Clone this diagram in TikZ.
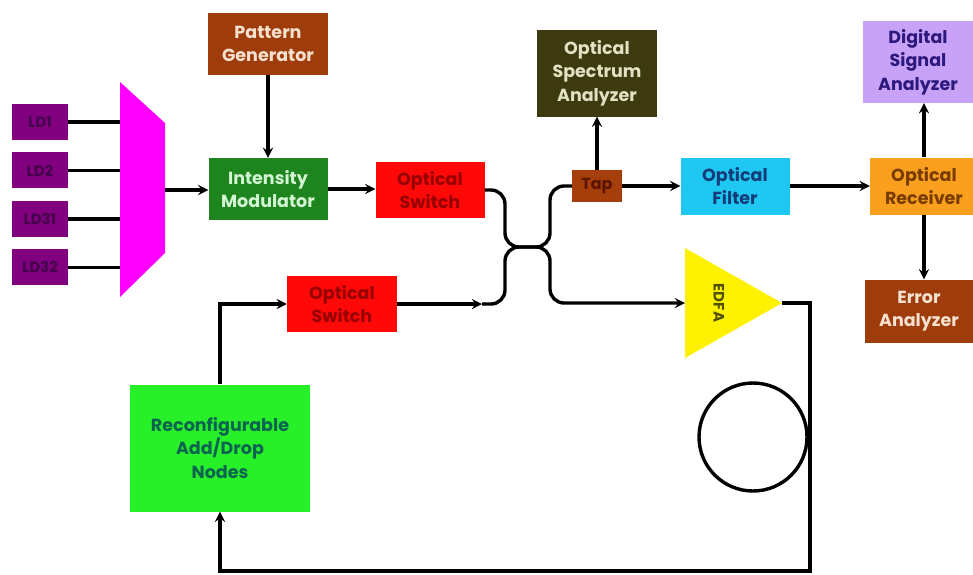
\documentclass[tikz,border=0pt]{standalone}
\usepackage{fontspec}
\setmainfont{Poppins}
\usepackage{tikz}
\usetikzlibrary{positioning, arrows}
\definecolor{ldfill}{RGB}{128,0,128}
\definecolor{ldtext}{RGB}{70,0,75}
\definecolor{muxfill}{RGB}{255,0,255}
\definecolor{brownfill}{RGB}{158,60,12}
\definecolor{lighttext}{RGB}{245,225,205}
\definecolor{imfill}{RGB}{30,132,30}
\definecolor{imtext}{RGB}{210,245,210}
\definecolor{osfill}{RGB}{255,8,8}
\definecolor{ostext}{RGB}{150,0,0}
\definecolor{tapfill}{RGB}{165,62,10}
\definecolor{taptext}{RGB}{90,20,0}
\definecolor{osafill}{RGB}{60,58,14}
\definecolor{osatext}{RGB}{225,225,195}
\definecolor{filterfill}{RGB}{30,200,242}
\definecolor{filtertext}{RGB}{20,60,120}
\definecolor{rxfill}{RGB}{250,160,30}
\definecolor{rxtext}{RGB}{120,60,0}
\definecolor{dsafill}{RGB}{200,162,246}
\definecolor{dsatext}{RGB}{45,25,125}
\definecolor{radnfill}{RGB}{40,240,40}
\definecolor{radntext}{RGB}{10,100,80}
\definecolor{edfatext}{RGB}{80,80,0}
\tikzset{
x=1pt, y=-1pt, % one unit per pixel of the sketch, y going down
>=stealth, % small filled arrow heads
wire/.style={line width=3.4pt, black}, % the fibre lines
box/.style={rectangle, inner sep=0pt, align=center, font=\bfseries\fontsize{17.5}{23.5}\selectfont}, % every instrument
ldbox/.style={box, fill=ldfill, text=ldtext, minimum width=56pt, minimum height=36pt, font=\bfseries\fontsize{15}{17}\selectfont}, % the lasers
}
\begin{document}
\begin{tikzpicture}
\useasboundingbox (0,0) rectangle (973,574);

            % lasers and multiplexer
            \node[ldbox] (ld1) at (40,122) {LD1};
            \node[ldbox, below=12pt of ld1] (ld2) {LD2};
            \node[ldbox, below=12pt of ld2] (ld31) {LD31};
            \node[ldbox, below=12pt of ld31] (ld32) {LD32};
            \fill[muxfill] (120,82) -- (165,123) -- (165,253) -- (120,297) -- cycle;
            \coordinate (muxin) at (120,0);
            \coordinate (muxout) at (165,190);

            % transmitter
            \node[box, fill=brownfill, text=lighttext, minimum width=120pt, minimum height=62pt] (pg) at (268,44) {Pattern\\Generator};
            \node[box, fill=imfill, text=imtext, minimum width=119pt, minimum height=62pt] (im) at (268,189) {Intensity\\Modulator};
            \node[box, fill=osfill, text=ostext, minimum width=109pt, minimum height=56pt] (os1) at (430,190) {Optical\\Switch};
            \node[box, fill=osfill, text=ostext, minimum width=110pt, minimum height=56pt] (os2) at (342,304) {Optical\\Switch};
            \node[box, fill=radnfill, text=radntext, minimum width=180pt, minimum height=127pt] (radn) at (220,448) {Reconfigurable\\Add/Drop\\Nodes};

            % monitoring and receiver
            \node[box, fill=tapfill, text=taptext, minimum width=50pt, minimum height=32pt, font=\bfseries\fontsize{16}{18}\selectfont] (tap) at (597,186) {Tap};
            \node[box, fill=osafill, text=osatext, minimum width=120pt, minimum height=87pt] (osa) at (597,73) {Optical\\Spectrum\\Analyzer};
            \node[box, fill=filterfill, text=filtertext, minimum width=109pt, minimum height=57pt] (filter) at (735,186) {Optical\\Filter};
            \node[box, fill=rxfill, text=rxtext, minimum width=108pt, minimum height=57pt] (rx) at (924,186) {Optical\\Receiver};
            \node[box, fill=dsafill, text=dsatext, minimum width=110pt, minimum height=82pt] (dsa) at (918,62) {Digital\\Signal\\Analyzer};
            \node[box, fill=brownfill, text=lighttext, minimum width=108pt, minimum height=63pt] (ea) at (919,311) {Error\\Analyzer};

            % amplifier and fibre spool
            \fill[yellow] (685,248) -- (782,303) -- (685,358) -- cycle;
            \node[rotate=-90, text=edfatext, font=\bfseries\fontsize{15}{17}\selectfont] (edfa) at (719,303) {EDFA};
            \coordinate (edfain) at (685,303);
            \coordinate (edfaout) at (782,303);
            \node[draw, circle, line width=3.4pt, minimum size=108pt] (spool) at (753,437) {};

            % coupler
            \coordinate (xl) at (505,247);
            \coordinate (xm) at (527,247);
            \coordinate (xr) at (550,247);
            \coordinate (cin) at (482,0);
            \coordinate (loopbr) at (810,571);

            \foreach \n in {ld1,ld2,ld31,ld32}
                \draw[wire] (\n.east) -- (\n.east -| muxin);
            \draw[wire, ->] (muxout) -- (muxout -| im.west);
            \draw[wire, ->] (pg) -- (im);
            \draw[wire, ->] (im.east) -- (im.east -| os1.west);
            \draw[wire, rounded corners=14pt] (os1.east) -| (xl) -- (xm);
            \draw[wire, ->] (os2.east) -- (os2.east -| cin);
            \draw[wire, rounded corners=14pt] (os2.east -| cin) -| (xl) -- (xm);
            \draw[wire, rounded corners=14pt] (xm) -- (xr) |- (tap.west);
            \draw[wire, ->, rounded corners=14pt] (xm) -- (xr) |- (edfain);
            \draw[wire, ->] (tap) -- (osa);
            \draw[wire, ->] (tap) -- (filter);
            \draw[wire, ->] (filter) -- (rx);
            \draw[wire, ->] (rx.north) -- (rx.north |- dsa.south);
            \draw[wire, ->] (rx.south) -- (rx.south |- ea.north);
            \draw[wire, ->] (edfaout) -| (loopbr) -| (radn.south);
            \draw[wire, ->] (radn.north) |- (os2.west);
\end{tikzpicture}
\end{document}
